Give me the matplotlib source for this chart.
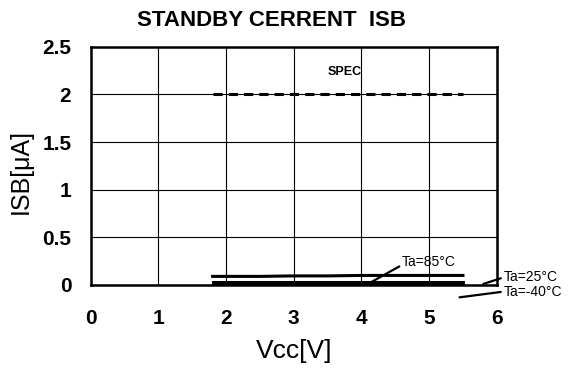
import matplotlib.pyplot as plt

plt.rcParams['font.family'] = ['Liberation Sans', 'DejaVu Sans']

# supply voltage sweep and measured standby current
vcc = [1.8, 2.5, 3.0, 3.5, 4.0, 4.5, 5.0, 5.5]
isb_85 = [0.09, 0.09, 0.095, 0.095, 0.1, 0.1, 0.1, 0.1]
isb_25 = [0.03, 0.03, 0.03, 0.03, 0.03, 0.03, 0.03, 0.03]
isb_m40 = [0.01, 0.01, 0.01, 0.01, 0.01, 0.01, 0.01, 0.01]
spec_vcc = [1.8, 5.5]
spec_isb = [2.0, 2.0]

x_ticks = [0, 1, 2, 3, 4, 5, 6]
y_ticks = [0, 0.5, 1, 1.5, 2, 2.5]
y_labels = ["0", "0.5", "1", "1.5", "2", "2.5"]


def main():
    fig = plt.figure(figsize=(5.71, 3.72), dpi=100)
    ax = fig.add_axes([0.159, 0.234, 0.711, 0.640])

    ax.plot(spec_vcc, spec_isb, color="black", lw=2.2, ls=(0, (3, 2)))
    ax.plot(vcc, isb_85, color="black", lw=2.2)
    ax.plot(vcc, isb_25, color="black", lw=2.2)
    ax.plot(vcc, isb_m40, color="black", lw=2.2)

    ax.set_xlim(0, 6)
    ax.set_ylim(0, 2.5)
    ax.set_xticks(x_ticks)
    ax.set_yticks(y_ticks)
    ax.set_yticklabels(y_labels)
    ax.grid(True, color="black", lw=0.8)
    ax.tick_params(length=0, labelsize=15)
    ax.tick_params(axis="x", pad=17)
    ax.tick_params(axis="y", pad=14)
    for lab in ax.get_xticklabels() + ax.get_yticklabels():
        lab.set_fontweight("bold")
    for sp in ax.spines.values():
        sp.set_linewidth(1.8)

    ax.set_xlabel("Vcc[V]", fontsize=19)
    ax.set_ylabel("ISB[\u03bcA]", fontsize=18)
    ax.xaxis.set_label_coords(0.5, -0.228)
    ax.yaxis.set_label_coords(-0.143, 0.475)
    fig.text(0.475, 0.944, "STANDBY CERRENT  ISB", ha="center", va="center",
             fontsize=16, fontweight="bold")

    ax.text(3.75, 2.24, "SPEC", fontsize=9, fontweight="bold", ha="center", va="center")

    # temperature labels with leader lines
    ax.annotate("Ta=85\u00b0C", xy=(4.12, 0.02), xytext=(4.6, 0.24),
                fontsize=10, va="center",
                arrowprops=dict(arrowstyle="-", color="black", lw=1.6,
                                shrinkA=0, shrinkB=0, relpos=(0, 0.3)),
                annotation_clip=False)
    ax.annotate("Ta=25\u00b0C", xy=(5.8, 0.01), xytext=(6.1, 0.08),
                fontsize=10, va="center",
                arrowprops=dict(arrowstyle="-", color="black", lw=1.6,
                                shrinkA=0, shrinkB=0, relpos=(0, 0.5)),
                annotation_clip=False)
    ax.annotate("Ta=-40\u00b0C", xy=(5.45, -0.13), xytext=(6.1, -0.07),
                fontsize=10, va="center",
                arrowprops=dict(arrowstyle="-", color="black", lw=1.6,
                                shrinkA=0, shrinkB=0, relpos=(0, 0.5)),
                annotation_clip=False)

    fig.savefig("out.png", dpi=100)
    plt.close(fig)


if __name__ == "__main__":
    main()
